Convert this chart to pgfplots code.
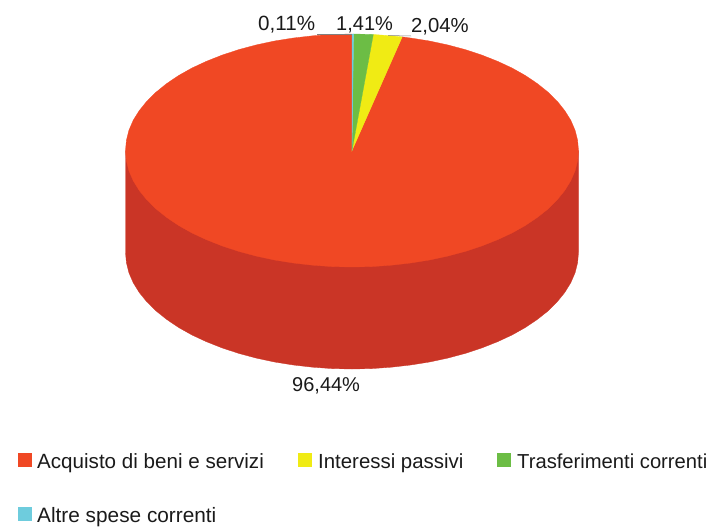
\documentclass[border=0pt]{standalone}
\usepackage{pgfplots}
\pgfplotsset{compat=1.18}
\usepackage{fontspec}
\setmainfont{Liberation Sans}
\definecolor{redtop}{HTML}{F04824}
\definecolor{redside}{HTML}{CA3526}
\definecolor{yel}{HTML}{F0EB14}
\definecolor{grn}{HTML}{6CBD45}
\definecolor{blu}{HTML}{6ECCDD}
\definecolor{txt}{HTML}{1A1A1A}
\begin{document}
\begin{tikzpicture}
\begin{axis}[
  scale only axis, width=709bp, height=525bp,
  xmin=0, xmax=709, ymin=0, ymax=525, y dir=reverse,
  hide axis, clip=false,
  every axis plot/.append style={line width=0.3bp},
]
% side wall
\addplot[fill=redside, draw=redside] coordinates {
 (578.5,150.5)(578.5,252.5)(577.6,262.7)(575.1,272.7)(570.8,282.7)(564.8,292.4)(557.3,301.7)(548.2,310.8)(537.5,319.3)(525.5,327.4)(512.2,334.9)(497.6,341.7)(481.9,347.9)(465.3,353.4)(447.7,358.1)(429.5,362.0)(410.6,365.0)(391.3,367.2)(371.7,368.6)(352,369)
 (332.3,368.6)(312.7,367.2)(293.4,365.0)(274.5,362.0)(256.3,358.1)(238.8,353.4)(222.1,347.9)(206.4,341.7)(191.8,334.9)(178.5,327.4)(166.5,319.3)(155.9,310.8)(146.7,301.7)(139.2,292.4)(133.2,282.7)(128.9,272.7)(126.4,262.7)(125.5,252.5)(125.5,150.5)
} --cycle;
% top: red wedge
\addplot[fill=redtop, draw=redtop] coordinates {
 (352,150.5)(402.2,36.9)(410.6,38.0)(429.5,41.0)(447.7,44.9)(465.3,49.6)(481.9,55.1)(497.6,61.3)(512.2,68.1)(525.5,75.6)(537.5,83.7)(548.2,92.3)(557.3,101.3)(564.8,110.7)(570.8,120.3)(575.1,130.3)(577.6,140.3)(578.5,150.5)
 (577.6,160.7)(575.1,170.7)(570.8,180.7)(564.8,190.4)(557.3,199.7)(548.2,208.8)(537.5,217.3)(525.5,225.4)(512.2,232.9)(497.6,239.7)(481.9,245.9)(465.3,251.4)(447.7,256.1)(429.5,260.0)(410.6,263.0)(391.3,265.2)(371.7,266.6)(352,267)
 (332.3,266.6)(312.7,265.2)(293.4,263.0)(274.5,260.0)(256.3,256.1)(238.8,251.4)(222.1,245.9)(206.4,239.7)(191.8,232.9)(178.5,225.4)(166.5,217.3)(155.9,208.8)(146.7,199.7)(139.2,190.4)(133.2,180.7)(128.9,170.7)(126.4,160.7)(125.5,150.5)
 (126.4,140.3)(128.9,130.3)(133.2,120.3)(139.2,110.7)(146.7,101.3)(155.9,92.3)(166.5,83.7)(178.5,75.6)(191.8,68.1)(206.4,61.3)(222.1,55.1)(238.8,49.6)(256.3,44.9)(274.5,41.0)(293.4,38.0)(312.7,35.8)(332.3,34.4)(352,34)
} --cycle;
% yellow, green, blue wedges
\addplot[fill=yel, draw=yel] coordinates {(352,150.5)(373.3,34.5)(391.3,35.8)(402.2,36.9)} --cycle;
\addplot[fill=grn, draw=grn] coordinates {(352,150.5)(353.6,34)(371.7,34.4)(373.3,34.5)} --cycle;
\addplot[fill=blu, draw=blu] coordinates {(352,150.5)(352,34)(353.6,34)} --cycle;
% leader lines
\addplot[draw=gray, line width=0.5bp] coordinates {(317,34)(352,34)};
\addplot[draw=gray, line width=0.5bp] coordinates {(388,35.5)(411,36)};
% legend swatches
\addplot[fill=redtop, draw=none] coordinates {(18,453)(32,453)(32,467)(18,467)} --cycle;
\addplot[fill=yel, draw=none] coordinates {(298,453)(312,453)(312,467)(298,467)} --cycle;
\addplot[fill=grn, draw=none] coordinates {(497,453)(511,453)(511,467)(497,467)} --cycle;
\addplot[fill=blu, draw=none] coordinates {(18,507)(32,507)(32,521)(18,521)} --cycle;
% labels
\begingroup
\def\lab#1#2#3#4{\node[anchor=base west, inner sep=0pt, text=txt, font=\fontsize{#4bp}{24bp}\selectfont] at (axis cs:#1,#2) {#3};}
\lab{258}{30}{0,11\%}{20.6}
\lab{336}{30}{1,41\%}{20}
\lab{411}{32}{2,04\%}{20.3}
\lab{292}{391}{96,44\%}{20}
\lab{37}{468}{Acquisto di beni e servizi}{20.6}
\lab{318}{468}{Interessi passivi}{20.4}
\lab{517}{468}{Trasferimenti correnti}{20.2}
\lab{37}{522}{Altre spese correnti}{20.8}
\endgroup
\path (axis cs:0,0) rectangle (axis cs:709,525);
\end{axis}
\end{tikzpicture}
\end{document}
